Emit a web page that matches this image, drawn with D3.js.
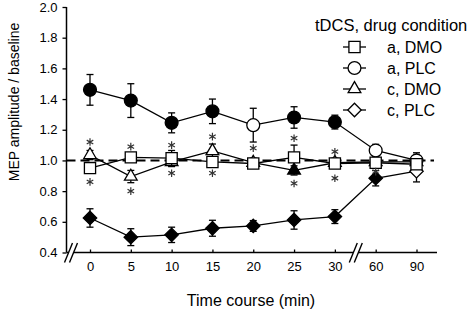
<!DOCTYPE html>
<html>
<head>
<meta charset="utf-8">
<script src="https://cdn.jsdelivr.net/npm/d3@7"></script>
<style>
  body { margin: 0; background: #fff; }
  text { font-family: "Liberation Sans", Arial, sans-serif; fill: #000; }
</style>
</head>
<body>
<div id="container"></div>
<script>
/* DATA */
const times = ["0", "5", "10", "15", "20", "25", "30", "60", "90"];
const yTicks = [0.4, 0.6, 0.8, 1.0, 1.2, 1.4, 1.6, 1.8, 2.0];

const aDmoMean = [0.95, 1.02, 1.015, 0.99, 0.98, 1.02, 0.98, 0.985, 0.975];
const aDmoErr = [0.03, 0.02, 0.05, 0.03, 0.03, 0.08, 0.03, 0.03, 0.03];
const aDmoFilled = [0, 0, 0, 0, 0, 0, 0, 0, 0];

const aPlcMean = [1.46, 1.39, 1.245, 1.32, 1.23, 1.28, 1.25, 1.065, 1.0];
const aPlcErr = [0.10, 0.11, 0.065, 0.08, 0.11, 0.07, 0.045, 0.04, 0.05];
const aPlcFilled = [1, 1, 1, 1, 0, 1, 1, 0, 0];

const cDmoMean = [1.035, 0.895, 0.99, 1.062, 0.985, 0.935, 0.985, 0.99, 0.99];
const cDmoErr = [0.03, 0.04, 0.03, 0.045, 0.03, 0.03, 0.03, 0.03, 0.03];
const cDmoFilled = [0, 0, 0, 0, 0, 1, 0, 0, 0];

const cPlcMean = [0.625, 0.50, 0.515, 0.558, 0.573, 0.612, 0.634, 0.884, 0.93];
const cPlcErr = [0.06, 0.055, 0.05, 0.052, 0.035, 0.06, 0.045, 0.05, 0.07];
const cPlcFilled = [1, 1, 1, 1, 1, 1, 1, 1, 0];

// significance asterisks (time, level)
const starTimes = ["0", "0", "5", "5", "10", "10", "15", "15", "20", "25", "25", "30", "30", "60"];
const starLevels = [1.12, 0.86, 1.09, 0.80, 1.10, 0.917, 1.155, 0.917, 1.08, 1.145, 0.85, 1.057, 0.884, 0.927];

const legendTitle = "tDCS, drug condition";
const legendLabels = ["a, DMO", "a, PLC", "c, DMO", "c, PLC"];

/* CONSTANTS */
const width = 473;
const height = 311;
const margin = {top: 7, bottom: 58.5, left: 66.5, right: 36};

// custom diamond (square rotated 45deg)
const diamond = {
  draw(ctx, size) {
    const r = Math.sqrt(size / 2);
    ctx.moveTo(0, -r); ctx.lineTo(r, 0); ctx.lineTo(0, r); ctx.lineTo(-r, 0); ctx.closePath();
  }
};

const series = [
  {name: legendLabels[3], mean: cPlcMean, err: cPlcErr, filled: cPlcFilled, type: diamond, size: 90},
  {name: legendLabels[2], mean: cDmoMean, err: cDmoErr, filled: cDmoFilled, type: d3.symbolTriangle, size: 70},
  {name: legendLabels[1], mean: aPlcMean, err: aPlcErr, filled: aPlcFilled, type: d3.symbolCircle, size: 130},
  {name: legendLabels[0], mean: aDmoMean, err: aDmoErr, filled: aDmoFilled, type: d3.symbolSquare, size: 125}
];

/* SCALES */
const xScale = d3.scalePoint()
  .domain(times)
  .range([90, 416.5]);

const yScale = d3.scaleLinear()
  .domain([0.4, 2.0])
  .range([height - margin.bottom, margin.top]);

const svg = d3.select("#container")
  .append("svg")
  .attr("width", width)
  .attr("height", height);

const x0 = margin.left;
const x1 = width - margin.right;
const yBase = height - margin.bottom;

/* AXES */
const yAxis = d3.axisLeft(yScale)
  .tickValues(yTicks)
  .tickFormat(d3.format(".1f"))
  .tickSize(4)
  .tickPadding(5);

svg.append("g")
  .attr("transform", `translate(${x0},0)`)
  .call(yAxis)
  .call(g => g.select(".domain").remove())
  .call(g => g.selectAll("line").attr("stroke-width", 1.3))
  .call(g => g.selectAll("text").style("font-size", "13px").attr("font-family", null));

const xAxis = d3.axisBottom(xScale)
  .tickSize(-3)
  .tickPadding(9);

svg.append("g")
  .attr("transform", `translate(0,${yBase})`)
  .call(xAxis)
  .call(g => g.select(".domain").remove())
  .call(g => g.selectAll("line").attr("stroke-width", 1.3))
  .call(g => g.selectAll("text").style("font-size", "13px").attr("font-family", null));

// axis lines
svg.append("line")
  .attr("x1", x0).attr("x2", x0)
  .attr("y1", margin.top).attr("y2", yBase)
  .attr("stroke", "#000").attr("stroke-width", 1.5);

svg.append("line")
  .attr("x1", x0).attr("x2", x1)
  .attr("y1", yBase).attr("y2", yBase)
  .attr("stroke", "#000").attr("stroke-width", 1.5);

// axis breaks "//"
function axisBreak(cx) {
  const g = svg.append("g").attr("transform", `translate(${cx},${yBase})`);
  g.append("path")
    .attr("d", "M-6,10 L2,-9.5 L7,-9.5 L-1,10 Z")
    .attr("fill", "#fff");
  g.append("line").attr("x1", -6).attr("y1", 10).attr("x2", 2).attr("y2", -9.5)
    .attr("stroke", "#000").attr("stroke-width", 1.4);
  g.append("line").attr("x1", -1).attr("y1", 10).attr("x2", 7).attr("y2", -9.5)
    .attr("stroke", "#000").attr("stroke-width", 1.4);
}
axisBreak(x0 + 4);
axisBreak((xScale("30") + xScale("60")) / 2);

// axis titles
svg.append("text")
  .attr("transform", `translate(19,102)rotate(-90)`)
  .attr("text-anchor", "middle")
  .style("font-size", "14px")
  .text("MEP amplitude / baseline");

svg.append("text")
  .attr("x", 251)
  .attr("y", 306)
  .attr("text-anchor", "middle")
  .style("font-size", "16px")
  .text("Time course (min)");

// baseline reference
svg.append("line")
  .attr("x1", x0).attr("x2", x1 - 3)
  .attr("y1", yScale(1.0)).attr("y2", yScale(1.0))
  .attr("stroke", "#000")
  .attr("stroke-width", 2)
  .attr("stroke-dasharray", "9,5");

/* SERIES */
const line = d3.line()
  .x((d, i) => xScale(times[i]))
  .y(d => yScale(d));

series.forEach(s => {
  const g = svg.append("g");
  g.append("path")
    .attr("d", line(s.mean))
    .attr("fill", "none")
    .attr("stroke", "#000")
    .attr("stroke-width", 1.3);

  s.mean.forEach((m, i) => {
    const cx = xScale(times[i]);
    const top = yScale(m + s.err[i]);
    const bot = yScale(m - s.err[i]);
    g.append("line").attr("x1", cx).attr("x2", cx).attr("y1", top).attr("y2", bot)
      .attr("stroke", "#000").attr("stroke-width", 1.3);
    g.append("line").attr("x1", cx - 3.5).attr("x2", cx + 3.5).attr("y1", top).attr("y2", top)
      .attr("stroke", "#000").attr("stroke-width", 1.3);
    g.append("line").attr("x1", cx - 3.5).attr("x2", cx + 3.5).attr("y1", bot).attr("y2", bot)
      .attr("stroke", "#000").attr("stroke-width", 1.3);
  });

  g.selectAll("path.mark")
    .data(s.mean)
    .join("path")
    .attr("class", "mark")
    .attr("transform", (d, i) => `translate(${xScale(times[i])},${yScale(d)})`)
    .attr("d", d3.symbol().type(s.type).size(s.size))
    .attr("fill", (d, i) => s.filled[i] ? "#000" : "#fff")
    .attr("stroke", "#000")
    .attr("stroke-width", 1.3);
});

// asterisks
svg.selectAll("path.star")
  .data(starTimes)
  .join("path")
  .attr("class", "star")
  .attr("transform", (d, i) => `translate(${xScale(d)},${yScale(starLevels[i])})`)
  .attr("d", d3.symbol().type(d3.symbolAsterisk).size(40))
  .attr("fill", "none")
  .attr("stroke", "#333")
  .attr("stroke-width", 1.2);

/* LEGEND */
svg.append("text")
  .attr("x", 315)
  .attr("y", 31)
  .style("font-size", "16.5px")
  .text(legendTitle);

const legendOrder = [series[3], series[2], series[1], series[0]];
legendOrder.forEach((s, i) => {
  const ly = 47 + i * 21;
  svg.append("line")
    .attr("x1", 343).attr("x2", 366)
    .attr("y1", ly).attr("y2", ly)
    .attr("stroke", "#000").attr("stroke-width", 1.3);
  svg.append("path")
    .attr("transform", `translate(354.5,${ly})`)
    .attr("d", d3.symbol().type(s.type).size(s.size))
    .attr("fill", "#fff")
    .attr("stroke", "#000")
    .attr("stroke-width", 1.3);
  svg.append("text")
    .attr("x", 387)
    .attr("y", ly)
    .attr("dy", "0.35em")
    .style("font-size", "16px")
    .text(s.name);
});
</script>
</body>
</html>
